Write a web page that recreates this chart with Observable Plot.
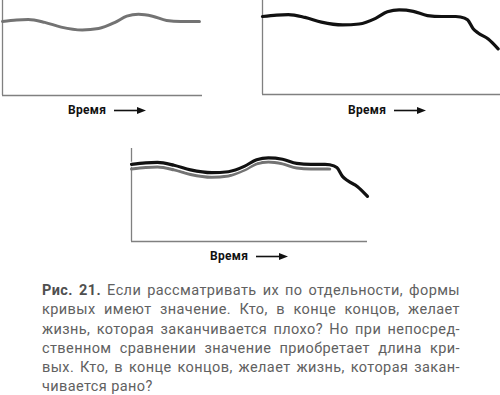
<!DOCTYPE html>
<html><head><meta charset="utf-8">
<script src="https://cdn.jsdelivr.net/npm/d3@7"></script>
<script src="https://cdn.jsdelivr.net/npm/@observablehq/plot@0.6"></script>
<style>
html,body{margin:0;padding:0;background:#fff;}
#root{position:relative;width:500px;height:395px;overflow:hidden;font-family:Roboto,"Noto Sans",sans-serif;}
.chart{position:absolute;}
.xlab{position:absolute;overflow:visible;}
.cap{position:absolute;left:42px;top:281px;width:418px;font-family:Roboto,sans-serif;font-size:14.5px;line-height:19.3px;letter-spacing:0.4px;color:#616161;}
.cap div{text-align:justify;text-align-last:justify;white-space:nowrap;}
.cap div.last{text-align-last:left;}
.cap b{color:#4f4f4f;}
</style></head><body><div id="root"></div>
<script>
// time axis (arbitrary units, 0..100 = end of the longer life)
const time = [0, 6, 11, 18, 25, 34, 41, 48, 53, 58, 64, 70, 76, 82, 84, 87, 89.4, 91.5, 95.8, 100];
// life quality of the longer life (black curve)
const longLife = [83, 84.5, 85, 82, 77, 74, 75, 81, 88, 90, 88.5, 84, 83, 83, 82.5, 79.5, 70, 65.5, 59, 48.5];
// life quality of the shorter life (gray curve), first 15 time points
const shortLife = [78, 79.5, 80, 77, 72, 69, 70.5, 77, 83.5, 85.5, 83.5, 79, 78, 78, 78];
const axisLabel = "Время";
const captionBold = "Рис. 21.";
const captionLines = [
  " Если рассматривать их по отдельности, формы",
  "кривых имеют значение. Кто, в конце концов, желает",
  "жизнь, которая заканчивается плохо? Но при непосред-",
  "ственном сравнении значение приобретает длина кри-",
  "вых. Кто, в конце концов, желает жизнь, которая закан-",
  "чивается рано?"
];

const longData = time.map((t, i) => ({t, v: longLife[i]}));
const shortData = shortLife.map((v, i) => ({t: time[i], v}));

const GRAY = "#737373", AX = "#808080";

function chart(o) {
  const marks = [
    Plot.ruleX([0], {stroke: AX, strokeWidth: 1.3}),
    Plot.ruleY([0], {stroke: AX, strokeWidth: 1.3})
  ];
  if (o.short) marks.push(Plot.line(shortData, {x: "t", y: "v", stroke: GRAY, strokeWidth: 3, curve: "monotone-x"}));
  if (o.long) {
    if (o.short) marks.push(Plot.line(longData, {x: "t", y: "v", stroke: "#fff", strokeWidth: 5, curve: "monotone-x"}));
    marks.push(Plot.line(longData, {x: "t", y: "v", stroke: "#111", strokeWidth: 3.2, curve: "monotone-x"}));
  }
  const svg = Plot.plot({
    width: o.width, height: o.height,
    marginLeft: o.ml, marginRight: o.mr, marginTop: o.mt, marginBottom: o.mb,
    x: {domain: [0, o.xmax], axis: null},
    y: {domain: [0, 100], axis: null},
    style: {background: "transparent", overflow: "visible"},
    marks
  });
  svg.classList.add("chart");
  svg.style.left = o.left + "px";
  svg.style.top = o.top + "px";
  return svg;
}

function label(left, baseline) {
  const ns = "http://www.w3.org/2000/svg";
  const s = document.createElementNS(ns, "svg");
  s.setAttribute("class", "xlab");
  s.setAttribute("width", 90); s.setAttribute("height", 20);
  s.style.left = left + "px"; s.style.top = (baseline - 14) + "px";
  s.innerHTML = `<text x="0" y="14" font-family="Roboto" font-weight="bold" font-size="12" letter-spacing="0.3" fill="#111">${axisLabel}</text>
  <line x1="46" y1="10.5" x2="70" y2="10.5" stroke="#111" stroke-width="1.6"/>
  <path d="M69,7 L78,10.5 L69,14 Z" fill="#111"/>`;
  return s;
}

const root = document.getElementById("root");
root.append(
  chart({left: 0, top: 0, width: 210, height: 100, ml: 2, mr: 8, mt: 0, mb: 5, xmax: 85.3, short: true}),
  chart({left: 250, top: 0, width: 250, height: 100, ml: 12, mr: 0, mt: 0, mb: 6, xmax: 101, long: true}),
  chart({left: 120, top: 140, width: 260, height: 110, ml: 11, mr: 13, mt: 8, mb: 9, xmax: 100, short: true, long: true}),
  label(68, 113.5),
  label(348, 113.5),
  label(210, 259.5)
);

const cap = document.createElement("div");
cap.className = "cap";
captionLines.forEach((line, i) => {
  const d = document.createElement("div");
  if (i === 0) {
    const b = document.createElement("b");
    b.textContent = captionBold;
    d.append(b, document.createTextNode(line));
  } else d.textContent = line;
  if (i === captionLines.length - 1) d.className = "last";
  cap.append(d);
});
root.append(cap);
</script>
</body></html>
